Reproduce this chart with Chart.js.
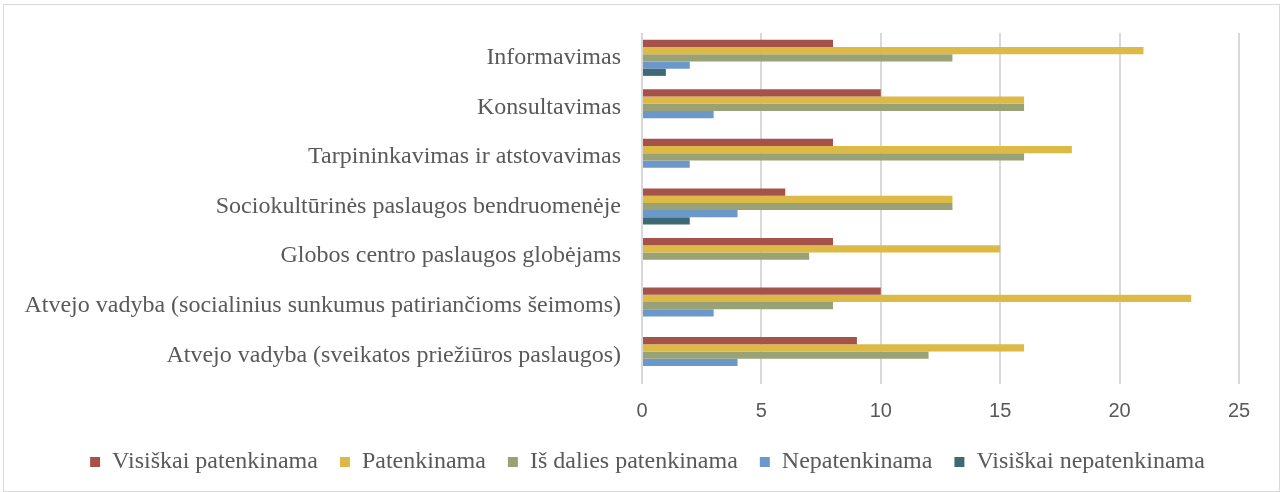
<!DOCTYPE html>
<html>
<head>
<meta charset="utf-8">
<script src="https://cdn.jsdelivr.net/npm/chart.js@4/dist/chart.umd.min.js"></script>
<style>
  body { margin: 0; background: #fff; }
  #wrap { position: relative; width: 1283px; height: 492px; }
  #frame { position: absolute; left: 3px; top: 4px; width: 1275px; height: 486px; border: 1px solid #d9d9d9; pointer-events: none; }
</style>
</head>
<body>
<div id="wrap">
  <canvas id="paslaugos" width="1283" height="492"></canvas>
  <div id="frame"></div>
</div>
<script>
// categories, top to bottom as in the picture
var categories = [
    "Informavimas",
    "Konsultavimas",
    "Tarpininkavimas ir atstovavimas",
    "Sociokultūrinės paslaugos bendruomenėje",
    "Globos centro paslaugos globėjams",
    "Atvejo vadyba (socialinius sunkumus patiriančioms šeimoms)",
    "Atvejo vadyba (sveikatos priežiūros paslaugos)"
];

var seriesNames = ["Visiškai patenkinama", "Patenkinama", "Iš dalies patenkinama", "Nepatenkinama", "Visiškai nepatenkinama"];

var visiskaiPatenkinama = [8, 10, 8, 6, 8, 10, 9];
var patenkinama = [21, 16, 18, 13, 15, 23, 16];
var isDaliesPatenkinama = [13, 16, 16, 13, 7, 8, 12];
var nepatenkinama = [2, 3, 2, 4, 0, 3, 4];
var visiskaiNepatenkinama = [1, 0, 0, 2, 0, 0, 0];

var xTicks = [0, 5, 10, 15, 20, 25];

var colours = ['#A5524A', '#DCBA45', '#99A276', '#6C98C9', '#3F6A73'];
var values = [visiskaiPatenkinama, patenkinama, isDaliesPatenkinama, nepatenkinama, visiskaiNepatenkinama];

var datasets = [];
for (var i = 0; i < seriesNames.length; i++) {
    datasets.push({
        label: seriesNames[i],
        data: values[i],
        backgroundColor: colours[i],
        borderWidth: 0,
        categoryPercentage: 0.73,
        barPercentage: 1.0
    });
}

// legend in the original sits a bit right of the chart area centre
var legendShift = {
    id: 'legendShift',
    afterLayout: function (chart) {
        chart.legend.left += 28;
        chart.legend.right += 28;
        chart.legend.top += 2;
        chart.legend.bottom += 2;
    }
};

var ctx = document.getElementById('paslaugos').getContext('2d');
var chart = new Chart(ctx, {
    type: 'bar',
    data: {
        labels: categories,
        datasets: datasets
    },
    options: {
        indexAxis: 'y',
        responsive: false,
        animation: false,
        layout: {
            padding: { top: 33, right: 44, bottom: 10, left: 0 }
        },
        scales: {
            x: {
                min: 0,
                max: 25,
                afterBuildTicks: function (scale) {
                    scale.ticks = xTicks.map(function (v) { return { value: v }; });
                },
                afterFit: function (scale) { scale.height = 46; },
                grid: { color: '#d9d9d9', lineWidth: 2, tickLength: 4 },
                border: { display: false },
                ticks: {
                    padding: 15,
                    color: '#595959',
                    font: { family: 'Liberation Sans', size: 20 }
                }
            },
            y: {
                afterFit: function (scale) { scale.width = 642; },
                grid: { display: false },
                border: { display: false },
                ticks: {
                    padding: 13,
                    color: '#595959',
                    font: { family: 'Liberation Serif', size: 24 }
                }
            }
        },
        plugins: {
            legend: {
                position: 'bottom',
                labels: {
                    boxWidth: 10,
                    boxHeight: 10,
                    padding: 22,
                    color: '#595959',
                    font: { family: 'Liberation Serif', size: 24 }
                }
            },
            tooltip: { enabled: false }
        }
    },
    plugins: [legendShift]
});
</script>
</body>
</html>
